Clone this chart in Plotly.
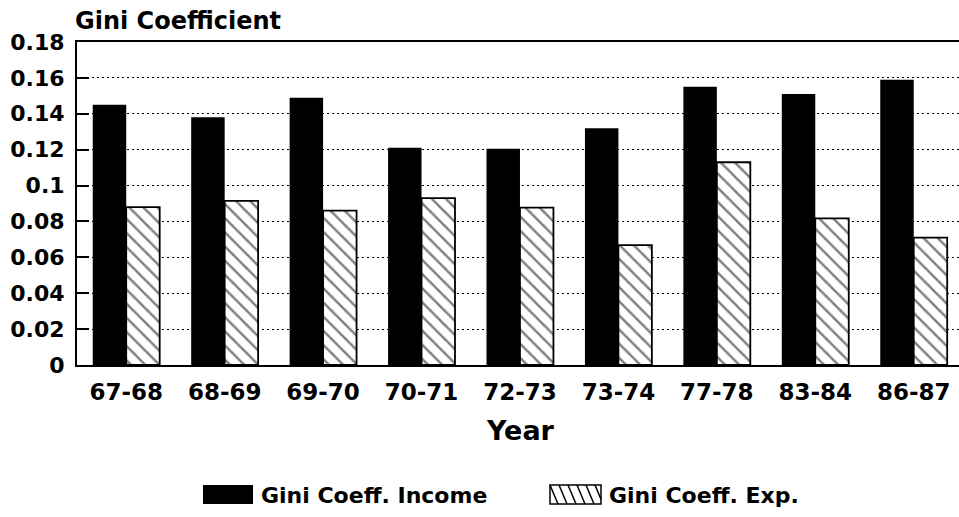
import plotly.graph_objects as go

years = ["67-68", "68-69", "69-70", "70-71", "72-73", "73-74", "77-78", "83-84", "86-87"]
gini_income = [0.145, 0.138, 0.149, 0.121, 0.1205, 0.132, 0.155, 0.151, 0.159]
gini_exp = [0.088, 0.0915, 0.086, 0.093, 0.0877, 0.0668, 0.113, 0.0817, 0.071]
series_names = ["Gini Coeff. Income", "Gini Coeff. Exp."]
y_ticks = [0, 0.02, 0.04, 0.06, 0.08, 0.1, 0.12, 0.14, 0.16, 0.18]
y_tick_text = ["0", "0.02", "0.04", "0.06", "0.08", "0.1", "0.12", "0.14", "0.16", "0.18"]

W, H = 959, 517
ML, MR, MT, MB = 77, 0, 42, 152
PW, PH = W - ML - MR, H - MT - MB
FONT = "DejaVu Sans"


def px(x):
    """figure x pixel -> paper coordinate"""
    return (x - ML) / PW


def py(y):
    """figure y pixel -> paper coordinate"""
    return (H - MB - y) / PH


fig = go.Figure()
fig.add_trace(go.Bar(
    x=years, y=gini_income, name=series_names[0],
    marker=dict(color="black", line=dict(width=0)),
    showlegend=False,
))
fig.add_trace(go.Bar(
    x=years, y=gini_exp, name=series_names[1],
    marker=dict(color="white", line=dict(color="black", width=1.8),
                pattern=dict(shape="\\", fgcolor="black", bgcolor="white",
                             size=10, solidity=0.25)),
    showlegend=False,
))

shapes = []
# legend swatches
shapes.append(dict(type="rect", xref="paper", yref="paper",
                   x0=px(203), x1=px(253), y0=py(504), y1=py(485),
                   fillcolor="black", line=dict(width=0)))
shapes.append(dict(type="rect", xref="paper", yref="paper",
                   x0=px(550), x1=px(601), y0=py(504), y1=py(485),
                   fillcolor="white", line=dict(color="black", width=1.5)))
path = ""
for x0 in [550, 559, 568, 577, 586, 595]:
    x1 = min(x0 + 8, 601)
    yy = 485 + (x1 - x0) * 19 / 8
    path += f"M{px(x0)},{py(485)} L{px(x1)},{py(yy)} "
shapes.append(dict(type="path", xref="paper", yref="paper", path=path,
                   line=dict(color="black", width=1.5)))

annotations = [
    dict(text="Gini Coefficient", xref="paper", yref="paper", x=px(74), y=py(21),
         xanchor="left", yanchor="middle", showarrow=False, borderpad=0,
         font=dict(family=FONT, size=24, color="black", weight="bold")),
    dict(text="Year", xref="paper", yref="paper", x=px(520), y=py(430),
         xanchor="center", yanchor="middle", showarrow=False,
         font=dict(family=FONT, size=27, color="black", weight="bold")),
    dict(text=series_names[0], xref="paper", yref="paper", x=px(259), y=py(495),
         xanchor="left", yanchor="middle", showarrow=False,
         font=dict(family=FONT, size=22, color="black", weight="bold")),
    dict(text=series_names[1], xref="paper", yref="paper", x=px(607), y=py(495),
         xanchor="left", yanchor="middle", showarrow=False,
         font=dict(family=FONT, size=22, color="black", weight="bold")),
]

fig.update_layout(
    width=W, height=H,
    margin=dict(l=ML, r=MR, t=MT, b=MB),
    paper_bgcolor="white", plot_bgcolor="white",
    barmode="group", bargap=0.32, bargroupgap=0,
    shapes=shapes, annotations=annotations,
    showlegend=False,
)
fig.update_xaxes(
    range=[-0.5, 8.46], showline=True, mirror=True, linecolor="black", linewidth=2,
    ticks="", showgrid=False, ticklabelstandoff=5,
    tickfont=dict(family=FONT, size=23, color="black", weight="bold"),
)
fig.update_yaxes(
    range=[0, 0.18], tickvals=y_ticks, ticktext=y_tick_text,
    showline=True, linecolor="black", linewidth=2,
    ticks="inside", ticklen=12, tickwidth=2, tickcolor="black",
    showgrid=True, gridcolor="black", gridwidth=1, griddash="2px,3px",
    zeroline=False, ticklabelstandoff=6,
    tickfont=dict(family=FONT, size=22, color="black", weight="bold"),
)

fig.write_html(
    "out.html",
    config={"displayModeBar": False},
    post_script=(
        "document.body.style.margin='0';"
        "document.body.style.overflow='hidden';"
        "document.documentElement.style.overflow='hidden';"
    ),
)
